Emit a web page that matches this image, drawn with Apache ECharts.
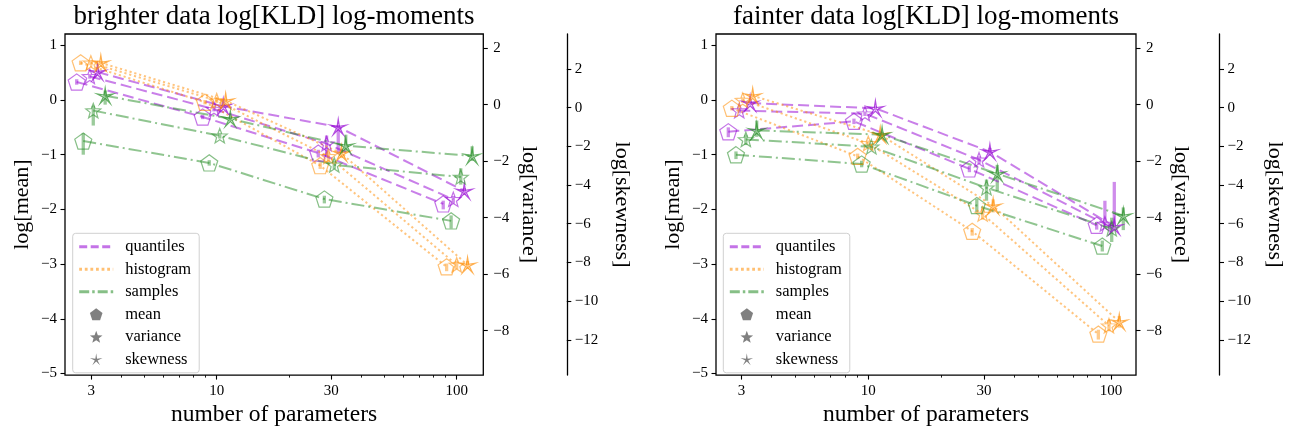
<!DOCTYPE html>
<html><head><meta charset="utf-8">
<script src="https://cdn.jsdelivr.net/npm/echarts@6/dist/echarts.min.js"></script>
<style>html,body{margin:0;padding:0;background:#fff}#c{width:1289px;height:432px}</style>
</head><body><div id="c"></div>
<script>
// ---------- tick labels / categories ----------
const xTicks = [3, 10, 30, 100];
const xMinorTicks = [4, 5, 6, 7, 8, 9, 20, 40, 50, 60, 70, 80, 90];
const meanTicks = [-5, -4, -3, -2, -1, 0, 1];
const varTicks = [-8, -6, -4, -2, 0, 2];
const skewTicks = [-12, -10, -8, -6, -4, -2, 0, 2];
const panelTitles = ['brighter data log[KLD] log-moments', 'fainter data log[KLD] log-moments'];
const methodNames = ['quantiles', 'histogram', 'samples'];
const momentNames = ['mean', 'variance', 'skewness'];

// ---------- brighter data ----------
const bQuantMeanX = [2.61, 8.74, 26.5, 87.9];
const bQuantMeanY = [0.33, -0.31, -0.97, -1.90];
const bQuantVarX = [2.96, 9.74, 28.7, 96.8];
const bQuantVarY = [1.00, -0.16, -1.38, -3.35];
const bQuantSkewX = [3.19, 10.65, 32.1, 107.6];
const bQuantSkewY = [1.83, 0.07, -1.00, -4.31];
const bHistMeanX = [2.71, 8.94, 27.0, 90.8];
const bHistMeanY = [0.68, -0.04, -1.20, -3.05];
const bHistVarX = [2.99, 10.0, 29.2, 100];
const bHistVarY = [1.48, 0.14, -1.83, -5.67];
const bHistSkewX = [3.29, 10.9, 33.1, 111];
const bHistSkewY = [2.31, 0.35, -2.36, -8.13];
const bSampMeanX = [2.78, 9.31, 28.1, 94.8];
const bSampMeanY = [-0.75, -1.15, -1.81, -2.21];
const bSampVarX = [3.06, 10.3, 30.9, 104];
const bSampVarY = [-0.21, -1.10, -2.13, -2.56];
const bSampSkewX = [3.43, 11.4, 34.5, 116];
const bSampSkewY = [0.61, -0.58, -1.97, -2.50];
// error bars [below, above]
const bQuantMeanErr = [[0.05, 0.05], [0.04, 0.04], [0.08, 0.06], [0.10, 0.06]];
const bQuantVarErr = [[0.08, 0.08], [0.08, 0.08], [0.46, 0.29], [0.15, 0.12]];
const bQuantSkewErr = [[0.10, 0.10], [0.10, 0.10], [1.40, 0.10], [0.20, 0.15]];
const bHistMeanErr = [[0.04, 0.04], [0.04, 0.04], [0.06, 0.06], [0.08, 0.06]];
const bHistVarErr = [[0.08, 0.08], [0.08, 0.08], [0.20, 0.15], [0.15, 0.15]];
const bHistSkewErr = [[0.10, 0.10], [0.10, 0.10], [0.25, 0.20], [0.20, 0.20]];
const bSampMeanErr = [[0.25, 0.14], [0.05, 0.05], [0.08, 0.06], [0.14, 0.10]];
const bSampVarErr = [[0.53, 0.17], [0.10, 0.10], [0.15, 0.15], [0.27, 0.31]];
const bSampSkewErr = [[0.46, 0.27], [0.12, 0.12], [0.33, 0.57], [0.26, 0.50]];

// ---------- fainter data ----------
const fQuantMeanX = [2.65, 8.73, 26.1, 87.3];
const fQuantMeanY = [-0.58, -0.39, -1.26, -2.29];
const fQuantVarX = [2.94, 9.69, 28.6, 94.4];
const fQuantVarY = [-0.21, -0.32, -1.95, -4.22];
const fQuantSkewX = [3.26, 10.7, 31.7, 103.2];
const fQuantSkewY = [0.23, -0.04, -2.28, -6.15];
const fHistMeanX = [2.74, 9.04, 26.8, 88.7];
const fHistMeanY = [-0.15, -1.03, -2.40, -4.28];
const fHistVarX = [3.04, 10.0, 29.6, 98.1];
const fHistVarY = [0.16, -1.37, -3.87, -7.82];
const fHistSkewX = [3.34, 11.2, 32.7, 108.2];
const fHistSkewY = [0.61, -1.40, -5.08, -11.07];
const fSampMeanX = [2.85, 9.39, 28.0, 92.1];
const fSampMeanY = [-1.00, -1.17, -1.93, -2.67];
const fSampVarX = [3.13, 10.3, 30.7, 100.7];
const fSampVarY = [-1.23, -1.49, -2.94, -4.39];
const fSampSkewX = [3.47, 11.4, 34.0, 112.4];
const fSampSkewY = [-1.18, -1.40, -3.42, -5.59];
const fQuantMeanErr = [[0.10, 0.08], [0.05, 0.05], [0.06, 0.06], [0.08, 0.06]];
const fQuantVarErr = [[0.10, 0.10], [0.08, 0.08], [0.15, 0.12], [0.11, 0.82]];
const fQuantSkewErr = [[0.10, 0.10], [0.10, 0.10], [0.20, 0.20], [0.20, 2.31]];
const fHistMeanErr = [[0.04, 0.04], [0.05, 0.05], [0.08, 0.06], [0.10, 0.08]];
const fHistVarErr = [[0.10, 0.10], [0.10, 0.10], [0.20, 0.20], [0.20, 0.20]];
const fHistSkewErr = [[0.10, 0.10], [0.15, 0.15], [0.34, 0.34], [0.30, 0.30]];
const fSampMeanErr = [[0.08, 0.06], [0.06, 0.06], [0.12, 0.12], [0.10, 0.10]];
const fSampVarErr = [[0.20, 0.15], [0.12, 0.12], [0.46, 0.29], [0.47, 0.39]];
const fSampSkewErr = [[0.33, 0.51], [0.15, 0.15], [0.89, 0.46], [0.74, 0.43]];

// ---------- assemble ----------
const panelData = [
  [ // brighter: [method][moment] = [X, Y, Err]
    [[bQuantMeanX, bQuantMeanY, bQuantMeanErr], [bQuantVarX, bQuantVarY, bQuantVarErr], [bQuantSkewX, bQuantSkewY, bQuantSkewErr]],
    [[bHistMeanX, bHistMeanY, bHistMeanErr], [bHistVarX, bHistVarY, bHistVarErr], [bHistSkewX, bHistSkewY, bHistSkewErr]],
    [[bSampMeanX, bSampMeanY, bSampMeanErr], [bSampVarX, bSampVarY, bSampVarErr], [bSampSkewX, bSampSkewY, bSampSkewErr]]
  ],
  [
    [[fQuantMeanX, fQuantMeanY, fQuantMeanErr], [fQuantVarX, fQuantVarY, fQuantVarErr], [fQuantSkewX, fQuantSkewY, fQuantSkewErr]],
    [[fHistMeanX, fHistMeanY, fHistMeanErr], [fHistVarX, fHistVarY, fHistVarErr], [fHistSkewX, fHistSkewY, fHistSkewErr]],
    [[fSampMeanX, fSampMeanY, fSampMeanErr], [fSampVarX, fSampVarY, fSampVarErr], [fSampSkewX, fSampSkewY, fSampSkewErr]]
  ]
];

const FF = 'Liberation Serif';
const methodRGB = [[148, 0, 211], [255, 140, 0], [34, 139, 34]];
const methodDash = [[11, 5], [2.2, 2.8], [13, 4, 2, 4]];
const legendDash = [[8, 3.5], [2.8, 2.8], [10, 3, 2.5, 3]];
const rgba = (c, a) => `rgba(${c[0]},${c[1]},${c[2]},${a})`;
const minus = v => (v < 0 ? '\u2212' + Math.abs(v) : String(v));

function polyPath(n, rOut, rIn, rot) {
  const pts = [];
  const m = rIn == null ? n : 2 * n;
  for (let i = 0; i < m; i++) {
    const r = rIn == null ? rOut : (i % 2 === 0 ? rOut : rIn);
    const a = (-90 + rot + i * 360 / m) * Math.PI / 180;
    pts.push((r * Math.cos(a)).toFixed(4) + ',' + (r * Math.sin(a)).toFixed(4));
  }
  return 'path://M' + pts.join(' L') + ' Z';
}
const symPaths = [polyPath(5, 1, null, 0), polyPath(5, 1, 0.42, 0), polyPath(5, 1, 0.22, 0)];
const symSizes = [[17, 16.2], [15, 14.3], [16, 15.2]];

const panels = [
  { grid: { left: 65, top: 34, width: 418.3, height: 346 }, xr: [2.333, 129.1], legendLeft: 72.7, cx: 274 },
  { grid: { left: 716, top: 34, width: 420, height: 345.5 }, xr: [2.358, 126.8], legendLeft: 723.3, cx: 926 }
];
const yRanges = [[-5.03, 1.207], [-9.57, 2.5], [-13.82, 3.8]];

const grids = [], xAxes = [], yAxes = [], series = [], legends = [], titles = [];
const tickLine = { color: '#000', width: 1.1 };
const lblStyle = { fontFamily: FF, fontSize: 15, color: '#000' };

panels.forEach((P, p) => {
  grids.push(Object.assign({ show: true, borderColor: '#000', borderWidth: 1.3, backgroundColor: 'transparent', containLabel: false }, P.grid));
  const xmin = Math.log10(P.xr[0]), xmax = Math.log10(P.xr[1]);
  xAxes.push({
    type: 'value', gridIndex: p, position: 'bottom', min: xmin, max: xmax,
    axisLine: { show: false, onZero: false }, splitLine: { show: false },
    axisTick: { show: true, length: 4.5, lineStyle: tickLine, customValues: xTicks.map(v => Math.log10(v)) },
    axisLabel: { show: true, customValues: xTicks.map(v => Math.log10(v)), formatter: v => String(Math.round(Math.pow(10, v))), margin: 8, ...lblStyle },
    name: 'number of parameters', nameLocation: 'middle', nameGap: 24,
    nameTextStyle: { fontFamily: FF, fontSize: 23.5, color: '#000' }
  });
  xAxes.push({
    type: 'value', gridIndex: p, position: 'bottom', min: xmin, max: xmax,
    axisLine: { show: false, onZero: false }, splitLine: { show: false }, axisLabel: { show: false },
    axisTick: { show: true, length: 2.5, lineStyle: { color: '#000', width: 0.9 }, customValues: xMinorTicks.map(v => Math.log10(v)) }
  });
  yAxes.push({
    type: 'value', gridIndex: p, position: 'left', min: yRanges[0][0], max: yRanges[0][1],
    axisLine: { show: false, onZero: false }, splitLine: { show: false },
    axisTick: { show: true, length: 4.5, lineStyle: tickLine, customValues: meanTicks },
    axisLabel: { customValues: meanTicks, formatter: minus, margin: 8, ...lblStyle },
    name: 'log[mean]', nameLocation: 'middle', nameGap: 32,
    nameTextStyle: { fontFamily: FF, fontSize: 22, color: '#000' }
  });
  yAxes.push({
    type: 'value', gridIndex: p, position: 'right', min: yRanges[1][0], max: yRanges[1][1],
    axisLine: { show: false, onZero: false }, splitLine: { show: false },
    axisTick: { show: true, length: 4.5, lineStyle: tickLine, customValues: varTicks },
    axisLabel: { customValues: varTicks, formatter: minus, margin: 10, ...lblStyle },
    name: 'log[variance]', nameLocation: 'middle', nameGap: 34, nameRotate: -90,
    nameTextStyle: { fontFamily: FF, fontSize: 22, color: '#000' }
  });
  yAxes.push({
    type: 'value', gridIndex: p, position: 'right', offset: 83.5, min: yRanges[2][0], max: yRanges[2][1],
    axisLine: { show: true, onZero: false, lineStyle: { color: '#000', width: 1.3 } }, splitLine: { show: false },
    axisTick: { show: true, length: 4.5, lineStyle: tickLine, customValues: skewTicks },
    axisLabel: { customValues: skewTicks, formatter: minus, margin: 8, ...lblStyle },
    name: 'log[skewness]', nameLocation: 'middle', nameGap: 44, nameRotate: -90,
    nameTextStyle: { fontFamily: FF, fontSize: 22, color: '#000' }
  });
  titles.push({ text: panelTitles[p], left: P.cx, top: 3, textAlign: 'center', padding: 0,
    textStyle: { fontFamily: FF, fontSize: 27, fontWeight: 'normal', color: '#000' } });

  panelData[p].forEach((method, m) => {
    method.forEach((ser, k) => {
      const [X, Y, E] = ser;
      const c = methodRGB[m];
      series.push({
        type: 'custom', name: `err-${p}-${m}-${k}`, xAxisIndex: 2 * p, yAxisIndex: 3 * p + k,
        silent: true, z: 2, animation: false,
        data: X.map((x, i) => [Math.log10(x), Y[i] - E[i][0], Y[i] + E[i][1]]),
        renderItem: (params, api) => {
          const a = api.coord([api.value(0), api.value(1)]);
          const b = api.coord([api.value(0), api.value(2)]);
          return { type: 'line', shape: { x1: a[0], y1: a[1], x2: b[0], y2: b[1] },
            style: { stroke: rgba(c, 0.45), lineWidth: 3.3 } };
        }
      });
      series.push({
        type: 'line', name: `s-${p}-${m}-${k}`, xAxisIndex: 2 * p, yAxisIndex: 3 * p + k,
        data: X.map((x, i) => [Math.log10(x), Y[i]]),
        symbol: symPaths[k], symbolSize: symSizes[k], showSymbol: true, showAllSymbol: true,
        lineStyle: { color: rgba(c, 0.5), width: 2, type: methodDash[m] },
        itemStyle: { color: 'rgba(255,255,255,0)', borderColor: rgba(c, k === 2 ? 0.7 : 0.55), borderWidth: 1.2 },
        z: 3, silent: true, animation: false, clip: false
      });
    });
  });

  legends.push({
    left: P.legendLeft, top: 233.3, orient: 'vertical', selectedMode: false,
    data: [
      { name: 'quantiles' }, { name: 'histogram' }, { name: 'samples' },
      { name: 'mean', icon: symPaths[0] }, { name: 'variance', icon: symPaths[1] }, { name: 'skewness', icon: symPaths[2] }
    ],
    itemWidth: 34, itemHeight: 12, itemGap: 5.5, padding: [5, 8, 5, 5],
    symbolKeepAspect: true,
    lineStyle: { width: 3 },
    borderColor: '#d0d0d0', borderWidth: 1, borderRadius: 3, backgroundColor: 'rgba(255,255,255,0.85)',
    textStyle: { fontFamily: FF, fontSize: 16.5, color: '#000', padding: [0, 0, 0, 7] }
  });
});

// legend-only entries
methodNames.forEach((n, m) => {
  series.push({ type: 'line', name: n, data: [], xAxisIndex: 0, yAxisIndex: 0, symbol: 'none',
    lineStyle: { color: rgba(methodRGB[m], 0.55), width: 3, type: legendDash[m] },
    itemStyle: { color: 'rgba(0,0,0,0)', borderColor: 'rgba(0,0,0,0)', borderWidth: 0 } });
});
momentNames.forEach((n, k) => {
  series.push({ type: 'line', name: n, data: [], xAxisIndex: 0, yAxisIndex: 0, symbol: symPaths[k], symbolKeepAspect: true,
    lineStyle: { width: 0 }, itemStyle: { color: '#808080' } });
});

const chart = echarts.init(document.getElementById('c'), null, { renderer: 'canvas' });
chart.setOption({
  animation: false, backgroundColor: '#fff',
  title: titles, grid: grids, xAxis: xAxes, yAxis: yAxes, legend: legends, series: series
});
</script></body></html>
